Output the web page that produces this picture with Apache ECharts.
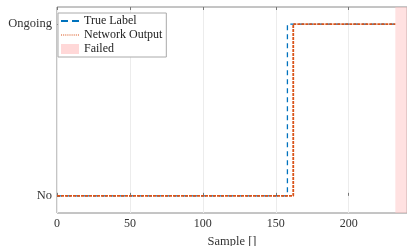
<!DOCTYPE html>
<html>
<head>
<meta charset="utf-8">
<script src="https://cdn.jsdelivr.net/npm/echarts@6/dist/echarts.min.js"></script>
<style>
  html, body { margin: 0; padding: 0; background: #fff; }
  #main { width: 407px; height: 246px; }
</style>
</head>
<body>
<div id="main"></div>
<script>
var chart = echarts.init(document.getElementById('main'));

// data
var stateLabels = ['No', 'Ongoing'];
var trueX = [0, 158, 158, 232];
var trueY = [0, 0, 1, 1];
var netX = [0, 162, 162, 232];
var netY = [0, 0, 1, 1];
var failedRange = [232, 240];

function pairs(xs, ys) {
  return xs.map(function (x, i) { return [x, ys[i]]; });
}

var font = 'Liberation Serif';

var option = {
  animation: false,
  textStyle: { fontFamily: font },
  grid: {
    left: 57, right: 0, top: 7, bottom: 33,
    outerBoundsMode: 'none',
    show: true, borderColor: '#8a8a8a', borderWidth: 1
  },
  legend: {
    left: 58, top: 13,
    orient: 'vertical',
    itemGap: 2,
    itemWidth: 18, itemHeight: 10,
    padding: [2, 4, 2, 3],
    backgroundColor: '#fff',
    borderColor: '#aaa', borderWidth: 1,
    textStyle: { fontFamily: font, fontSize: 12, color: '#222' },
    data: [
      { name: 'True Label', icon: 'path://M0,4h7v2h-7zM11,4h7v2h-7z', itemStyle: { color: '#0072BD' } },
      { name: 'Network Output', icon: 'path://M0,4.5h1v1h-1zM2,4.5h1v1h-1zM4,4.5h1v1h-1zM6,4.5h1v1h-1zM8,4.5h1v1h-1zM10,4.5h1v1h-1zM12,4.5h1v1h-1zM14,4.5h1v1h-1zM16,4.5h1v1h-1z', itemStyle: { color: '#D95319' } },
      { name: 'Failed', icon: 'rect', itemStyle: { color: 'rgba(255,190,190,0.6)' } }
    ]
  },
  xAxis: [{
    type: 'value', min: 0, max: 240, interval: 50,
    name: 'Sample []', nameLocation: 'middle', nameGap: 12,
    nameTextStyle: { fontFamily: font, fontSize: 12.5, color: '#333' },
    axisLine: { show: false },
    axisTick: { inside: true, length: 3, lineStyle: { color: '#777' } },
    axisLabel: {
      fontFamily: font, fontSize: 12, color: '#333', margin: 5,
      showMaxLabel: false
    },
    splitLine: { show: true, lineStyle: { color: '#ececec' } }
  }, {
    type: 'value', min: 0, max: 240, interval: 50, position: 'top',
    axisLine: { show: false },
    axisTick: { inside: true, length: 3, lineStyle: { color: '#777' } },
    axisLabel: { show: false },
    splitLine: { show: false }
  }],
  yAxis: {
    type: 'value', min: -0.1, max: 1.1,
    axisLine: { show: false },
    axisTick: { inside: true, length: 3, customValues: [0, 1], lineStyle: { color: '#777' } },
    axisLabel: {
      fontFamily: font, fontSize: 12.5, color: '#333', margin: 5,
      customValues: [0, 1],
      formatter: function (v) { return stateLabels[Math.round(v)]; }
    },
    splitLine: { show: false }
  },
  series: [{
    name: 'Failed', type: 'line', data: [],
    itemStyle: { color: 'rgba(255,190,190,0.6)' },
    markArea: {
      silent: true,
      itemStyle: { color: 'rgba(255,200,200,0.55)' },
      data: [[{ xAxis: failedRange[0] }, { xAxis: failedRange[1] }]]
    }
  }, {
    name: 'True Label', type: 'line', symbol: 'none',
    data: pairs(trueX, trueY),
    lineStyle: { color: '#0072BD', width: 1.3, type: [5, 4] },
    itemStyle: { color: '#0072BD' },
    z: 3
  }, {
    name: 'Network Output', type: 'line', symbol: 'none',
    data: pairs(netX, netY),
    lineStyle: { color: '#D95319', width: 1.8, type: [3, 1] },
    itemStyle: { color: '#D95319' },
    z: 4
  }]
};

chart.setOption(option);
</script>
</body>
</html>
